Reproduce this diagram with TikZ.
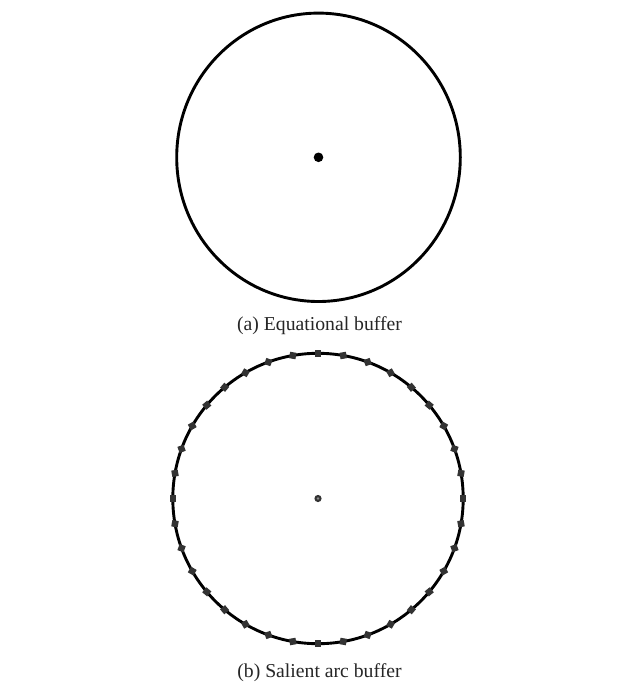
\documentclass[tikz,border=0pt]{standalone}
\usepackage{fontspec}
\setmainfont{Liberation Serif}
\usetikzlibrary{calc}
\begin{document}
\begin{tikzpicture}[x=1pt,y=-1pt,
  ring/.style={draw=black,line width=2.9pt},
  sqmark/.style={fill=black!80,minimum size=6.5pt,inner sep=0pt,rectangle},
  captext/.style={font=\fontsize{19.7}{22}\selectfont,anchor=base,text=black!85}]
\useasboundingbox[fill=white] (0,0) rectangle (620,683);
% (a)
\coordinate (ca) at (318.5,157.3);
\draw[ring] (ca) ellipse [x radius=141.8, y radius=144.2];
\fill[black] (ca) circle (4.8);
\node[captext] (la) at (319.5,330) {(a) Equational buffer};
% (b)
\coordinate (cb) at (318,498.5);
\draw[ring] (cb) circle (145.2);
\foreach \a in {0,10,...,350}{
  \node[sqmark,rotate=\a] (m\a) at ($(cb)+(\a:145.2)$) {};
}
\fill[black!80] (cb) circle (3.6);
\fill[black!45] (cb) circle (1.3);
\node[captext] (lb) at (319.5,677.5) {(b) Salient arc buffer};
\end{tikzpicture}
\end{document}
